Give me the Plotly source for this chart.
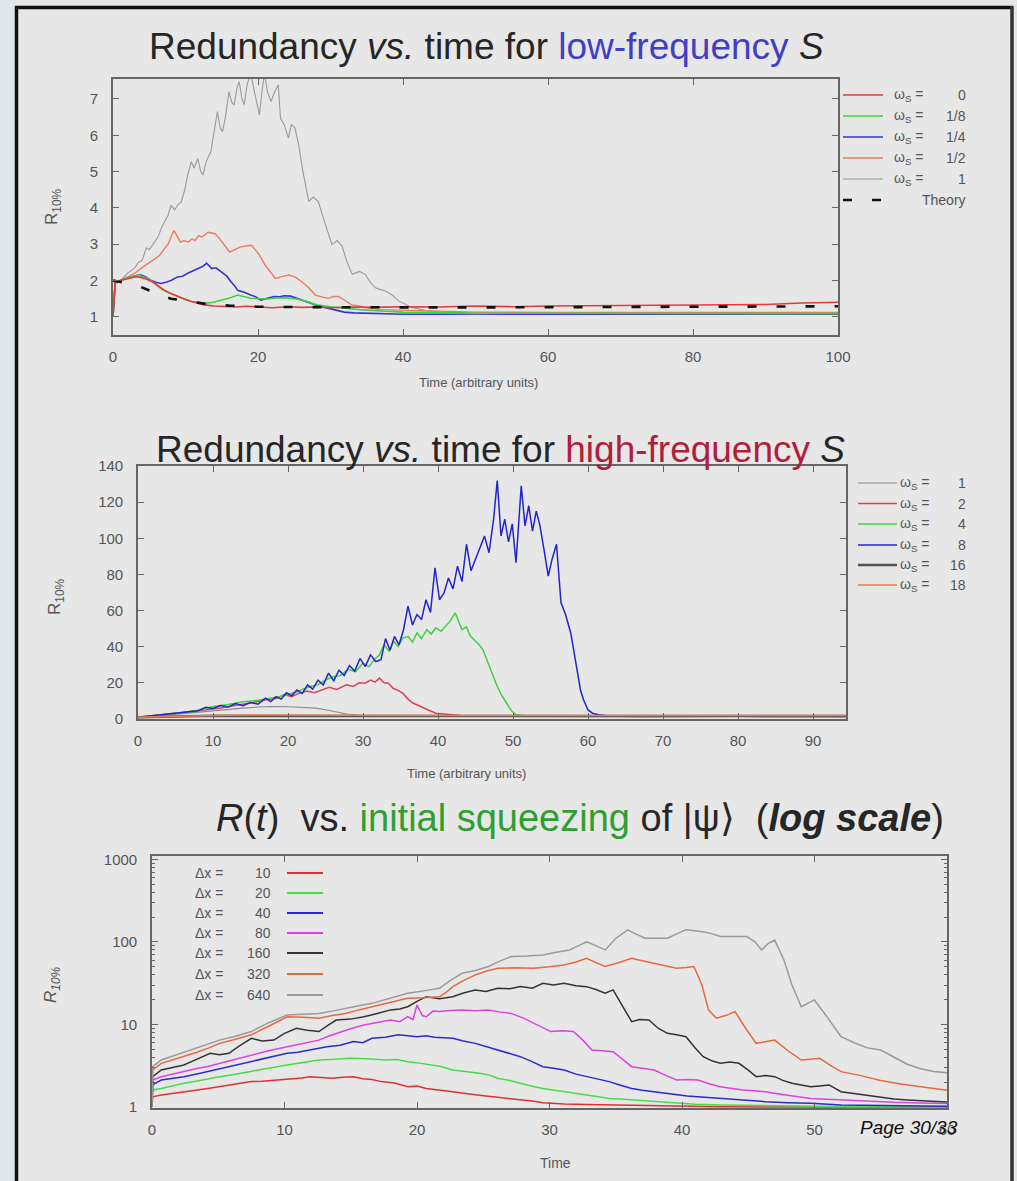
import plotly.graph_objects as go

W, H = 1017, 1181

# ---------------- Plot 1: low-frequency S ----------------
p1_labels = ["0", "1/8", "1/4", "1/2", "1"]

p1_t_w1 = [0, 0.3, 1, 2, 3, 3.5, 4, 4.6, 5, 5.7, 6.2, 6.8, 7.1, 7.6, 8.0, 8.5, 9.0, 9.4, 9.9, 10.3,
           10.8, 11.2, 11.7, 12.1, 12.4, 12.9, 13.5, 13.9, 14.4, 14.8, 15.1, 15.5, 16.0, 16.4, 16.7,
           17.1, 17.4, 17.8, 18.1, 18.5, 19.0, 19.5, 20.2, 20.6, 20.9, 21.3, 21.8, 22.3, 22.8, 23.1,
           23.6, 24.2, 24.6, 25.1, 25.6, 26.2, 27.0, 27.6, 28.3, 29.2, 30.2, 30.9, 31.6, 32.3, 33.0,
           34.0, 34.8, 35.5, 36.2, 36.9, 37.6, 38.5, 39.4, 40.3, 41.2, 43, 45, 50, 55, 60, 65, 70,
           75, 80, 85, 90, 95, 100]
p1_v_w1 = [1.0, 1.9, 2.0, 2.2, 2.35, 2.5, 2.55, 2.9, 2.85, 3.07, 3.2, 3.5, 3.62, 3.8, 4.07, 3.95,
           4.1, 4.16, 4.5, 4.9, 5.27, 5.1, 5.36, 5.0, 4.9, 5.3, 5.55, 6.0, 6.65, 6.2, 6.1, 6.5, 7.2,
           6.9, 6.84, 7.3, 7.48, 7.0, 6.84, 7.4, 7.7, 7.2, 6.56, 7.3, 7.7, 7.2, 6.93, 7.2, 7.39,
           6.47, 6.3, 5.92, 6.3, 6.2, 5.74, 5.0, 4.18, 4.3, 4.18, 3.6, 2.99, 3.1, 2.95, 2.5, 2.17,
           2.25, 2.17, 1.95, 1.8, 1.75, 1.71, 1.6, 1.44, 1.35, 1.26, 1.18, 1.14, 1.1, 1.1, 1.08,
           1.1, 1.09, 1.08, 1.1, 1.08, 1.09, 1.08, 1.1]

p1_t_w12 = [0, 0.3, 1, 2, 3, 4.1, 5, 5.5, 6.4, 7, 7.6, 8.0, 8.4, 8.9, 9.3, 9.8, 10.4, 10.9, 11.3,
            11.8, 12.3, 13.1, 13.6, 14.1, 14.7, 15.4, 16.1, 16.8, 17.5, 18.3, 19.1, 19.5, 20.2,
            21.0, 21.7, 22.4, 23.2, 24.2, 25.1, 26.1, 27.0, 27.9, 28.8, 29.7, 30.4, 31.1, 32.0,
            32.9, 34, 35.2, 37, 40, 45, 50, 60, 70, 80, 90, 100]
p1_v_w12 = [1.0, 1.95, 2.0, 2.1, 2.2, 2.37, 2.5, 2.55, 2.69, 2.85, 3.0, 3.2, 3.38, 3.2, 3.06, 3.1,
            3.06, 3.15, 3.1, 3.24, 3.2, 3.33, 3.3, 3.29, 3.15, 2.97, 2.78, 2.85, 2.92, 2.95, 2.97,
            2.88, 2.7, 2.42, 2.25, 2.06, 2.1, 2.15, 2.1, 1.96, 1.8, 1.6, 1.55, 1.51, 1.56, 1.56,
            1.45, 1.33, 1.3, 1.24, 1.2, 1.18, 1.15, 1.13, 1.12, 1.12, 1.13, 1.12, 1.12]

p1_t_w14 = [0, 0.3, 1, 2, 2.5, 3.2, 3.9, 4.5, 5.2, 5.9, 6.6, 7.3, 8.0, 8.9, 9.6, 10.3, 10.8, 11.5,
            12.2, 12.6, 12.9, 13.3, 13.6, 14.2, 15.0, 15.7, 16.3, 16.8, 17.2, 18.1, 19.0, 19.7,
            20.4, 21.3, 22.2, 23.0, 23.6, 24.5, 25.4, 26.3, 27.3, 28.4, 29.6, 30.7, 31.9, 33.2,
            34.6, 37, 40, 45, 50, 60, 70, 80, 90, 100]
p1_v_w14 = [1.0, 1.95, 2.0, 2.08, 2.1, 2.14, 2.15, 2.1, 2.01, 1.95, 1.92, 1.95, 2.0, 2.1, 2.12,
            2.2, 2.24, 2.3, 2.37, 2.42, 2.48, 2.4, 2.33, 2.35, 2.24, 2.12, 1.96, 1.85, 1.73, 1.68,
            1.6, 1.55, 1.46, 1.5, 1.56, 1.55, 1.58, 1.57, 1.51, 1.45, 1.37, 1.3, 1.24, 1.18, 1.13,
            1.11, 1.1, 1.08, 1.07, 1.07, 1.08, 1.07, 1.07, 1.08, 1.07, 1.07]

p1_t_w18 = [0, 0.3, 1, 2, 2.8, 3.5, 4.2, 4.8, 5.6, 6.6, 7.7, 8.9, 9.8, 10.8, 11.7, 12.6, 13.8,
            15.0, 16.1, 17.2, 18.1, 19.0, 20.2, 21.3, 22.5, 23.6, 24.5, 25.4, 26.8, 28.1, 30,
            31.9, 34, 37, 40, 45, 50, 60, 70, 80, 90, 100]
p1_v_w18 = [1.0, 1.95, 2.0, 2.08, 2.12, 2.15, 2.1, 2.06, 1.95, 1.78, 1.66, 1.56, 1.5, 1.42, 1.4,
            1.37, 1.4, 1.46, 1.52, 1.6, 1.55, 1.51, 1.5, 1.49, 1.52, 1.53, 1.51, 1.49, 1.42, 1.33,
            1.28, 1.24, 1.2, 1.16, 1.13, 1.12, 1.1, 1.1, 1.09, 1.1, 1.09, 1.09]

p1_t_w0 = [0, 0.3, 1, 2, 3, 3.5, 4.5, 5.5, 6.3, 7.1, 8.0, 8.9, 9.8, 10.8, 11.7, 12.6, 14, 15.5,
           17, 18.5, 20, 22, 24, 26, 28, 30, 33, 36, 40, 45, 50, 55, 60, 65, 70, 75, 80, 85, 90,
           95, 100]
p1_v_w0 = [1.0, 1.95, 2.0, 2.06, 2.1, 2.1, 2.05, 1.96, 1.85, 1.73, 1.64, 1.56, 1.49, 1.42, 1.38,
           1.33, 1.3, 1.28, 1.27, 1.29, 1.27, 1.25, 1.28, 1.26, 1.27, 1.25, 1.27, 1.26, 1.28, 1.27,
           1.3, 1.28, 1.3, 1.31, 1.3, 1.33, 1.32, 1.35, 1.34, 1.38, 1.4]

p1_t_theory = [0, 1, 2, 3.5, 5, 6.3, 8, 10.5, 13, 16, 20, 25, 30, 40, 50, 60, 70, 80, 90, 100]
p1_v_theory = [2.0, 1.97, 1.92, 1.85, 1.72, 1.62, 1.5, 1.42, 1.35, 1.31, 1.28, 1.27, 1.26, 1.26,
               1.26, 1.27, 1.27, 1.28, 1.28, 1.29]

p1_xticks = [0, 20, 40, 60, 80, 100]
p1_yticks = [1, 2, 3, 4, 5, 6, 7]

# ---------------- Plot 2: high-frequency S ----------------
p2_labels = ["1", "2", "4", "8", "16", "18"]

p2_t_w8 = [0, 2, 4, 6, 8, 9, 10, 11, 12, 13, 14, 15, 16, 17, 17.7, 18.4, 19.1, 19.8, 20.5, 21.2,
           21.9, 22.6, 23.3, 24.0, 24.7, 25.4, 26.1, 26.8, 27.5, 28.2, 28.9, 29.6, 30.3, 31.0,
           31.7, 32.4, 33.0, 33.6, 34.2, 34.8, 35.4, 36.0, 36.6, 37.2, 37.8, 38.4, 39.0, 39.6,
           40.2, 40.8, 41.4, 42.0, 42.6, 43.2, 43.8, 44.4, 45.0, 45.6, 46.2, 46.8, 47.4, 47.9,
           48.4, 48.9, 49.4, 49.9, 50.4, 51.1, 51.6, 52.1, 52.6, 53.1, 53.6, 54.2, 54.7, 55.2,
           55.8, 56.4, 57.0, 57.7, 58.2, 58.6, 59.0, 59.4, 60.0, 60.6, 61.4, 62.4, 64, 67, 70, 75,
           80, 85, 90, 94.4]
p2_v_w8 = [1, 1.8, 2.8, 3.5, 4.5, 6.5, 5.8, 7.5, 6.6, 8.5, 7.4, 9.1, 8.2, 11.5, 9.6, 12.4, 11.0,
           14.5, 12.8, 16.0, 14.1, 18.9, 16.5, 21.5, 18.8, 25.4, 21.2, 27.0, 24.1, 29.6, 26.5,
           33.5, 29.0, 35.5, 31.8, 32.8, 44.5, 38.0, 45.7, 41.0, 49.4, 62.4, 52.0, 57.8, 55.0,
           66.0, 59.0, 83.7, 66.0, 69.8, 78.0, 72.0, 84.6, 76.0, 96.7, 82.0, 88.3, 94.0, 101.3,
           92.0, 110.0, 131.9, 101.3, 110.6, 98.0, 108.0, 86.5, 129.1, 106.9, 118.0, 104.0, 115.0,
           106.9, 92.0, 79.1, 88.3, 96.7, 64.3, 58.0, 47.6, 36.0, 25.4, 16.0, 10.6, 5.0, 3.2, 2.3,
           1.8, 1.5, 1.4, 1.5, 1.4, 1.5, 1.4, 1.5, 1.4]

p2_t_w4 = [0, 2, 4, 6, 8, 10, 12, 14, 16, 18, 19, 20, 21, 22, 23, 24, 25, 26, 27, 28, 29, 30,
           30.8, 31.5, 32.2, 32.8, 33.5, 34.1, 34.7, 35.3, 36.0, 36.6, 37.2, 37.8, 38.5, 39.1,
           39.7, 40.4, 41.0, 41.6, 42.3, 42.8, 43.2, 43.8, 44.3, 44.8, 45.4, 46.0, 46.7, 47.3,
           47.9, 48.5, 49.2, 49.8, 50.4, 51.5, 53, 56, 60, 65, 70, 75, 80, 85, 90, 94.4]
p2_v_w4 = [1, 1.8, 2.8, 3.6, 4.8, 6.9, 8.0, 9.5, 10.4, 11.5, 12.4, 13.6, 14.8, 16.5, 18.0, 19.0,
           21.5, 23.4, 24.0, 27.5, 26.2, 31.0, 29.0, 32.8, 35.5, 41.1, 37.5, 43.0, 40.0, 44.8,
           45.7, 42.5, 47.6, 44.5, 49.4, 47.0, 50.5, 48.5, 51.3, 54.0, 58.7, 53.0, 49.4, 51.0,
           46.0, 43.9, 41.5, 38.3, 31.0, 25.0, 18.0, 13.0, 8.8, 4.5, 2.3, 1.8, 1.6, 1.5, 1.5, 1.6,
           1.5, 1.6, 1.5, 1.6, 1.5, 1.6]

p2_t_w2 = [0, 2, 4, 6, 8, 10.8, 12, 14, 15.5, 17.1, 18.5, 19.5, 20.5, 21.5, 22.5, 23.5, 24.6,
           25.5, 26.5, 27.8, 28.7, 29.5, 30.3, 31.0, 31.6, 32.2, 32.8, 33.4, 34.0, 34.6, 35.3,
           36.0, 36.6, 37.2, 37.8, 38.7, 39.7, 40.6, 41.6, 43, 46, 50, 55, 60, 70, 80, 90, 94.4]
p2_v_w2 = [1, 1.8, 2.7, 3.5, 4.5, 6.0, 6.8, 8.0, 9.3, 10.6, 11.5, 13.5, 12.4, 14.3, 15.5, 14.6,
           16.1, 17.5, 16.4, 18.9, 18.0, 20.0, 19.8, 21.5, 20.4, 22.6, 20.0, 19.8, 17.0, 16.0,
           14.3, 11.0, 9.0, 7.8, 6.5, 5.0, 3.2, 2.8, 2.3, 2.0, 1.8, 1.7, 1.8, 1.7, 1.8, 1.7, 1.8,
           1.7]

p2_t_w1 = [0, 3, 6, 8.9, 11, 13.9, 16, 17.7, 20, 22.1, 23.7, 25.2, 26.5, 27.8, 29.5, 31.5, 35,
           40, 50, 60, 70, 80, 90, 94.4]
p2_v_w1 = [1, 1.8, 3.0, 4.1, 5.0, 6.0, 6.6, 6.9, 6.8, 6.5, 6.0, 5.0, 3.8, 2.8, 2.1, 1.7, 1.5,
           1.4, 1.4, 1.3, 1.4, 1.3, 1.4, 1.3]

p2_t_flat = [0, 5, 10, 15, 20, 30, 40, 50, 60, 70, 80, 90, 94.4]
p2_v_w16 = [1, 1.5, 1.8, 1.7, 1.8, 1.6, 1.7, 1.6, 1.7, 1.6, 1.7, 1.6, 1.7]
p2_v_w18 = [1, 1.6, 2.0, 2.2, 2.1, 1.9, 2.0, 1.9, 2.0, 2.1, 2.0, 2.1, 2.0]

p2_xticks = [0, 10, 20, 30, 40, 50, 60, 70, 80, 90]
p2_yticks = [0, 20, 40, 60, 80, 100, 120, 140]

# ---------------- Plot 3: initial squeezing (log) ----------------
p3_labels = ["10", "20", "40", "80", "160", "320", "640"]

p3_t_dx10 = [0, 0.05, 0.7, 1.5, 2.4, 3.3, 4.2, 5.1, 6.0, 6.8, 7.5, 8.3, 9.0, 9.8, 10.6, 11.3,
             11.9, 12.7, 13.6, 14.4, 15.2, 15.9, 16.6, 17.3, 18.3, 19.3, 20.0, 20.7, 21.7, 22.7,
             23.5, 24.4, 25.2, 26.1, 27.0, 27.8, 28.7, 29.5, 30.3, 31.1, 32.8, 34.5, 37, 39.6,
             43, 47, 52, 56, 60]
p3_v_dx10 = [1.0, 1.33, 1.4, 1.45, 1.53, 1.6, 1.68, 1.76, 1.85, 1.95, 2.03, 2.05, 2.1, 2.12,
             2.2, 2.25, 2.33, 2.28, 2.23, 2.3, 2.33, 2.2, 2.15, 2.03, 1.95, 1.76, 1.8, 1.68,
             1.62, 1.53, 1.47, 1.4, 1.36, 1.31, 1.27, 1.22, 1.18, 1.13, 1.1, 1.09, 1.07, 1.06,
             1.04, 1.01, 1.01, 1.0, 1.0, 1.0, 1.0]

p3_t_dx20 = [0, 0.05, 0.7, 1.5, 2.4, 3.3, 4.2, 5.1, 6.3, 7.5, 8.8, 10.2, 11.4, 12.6, 13.8, 14.9,
             16.2, 17.6, 18.5, 19.3, 20.2, 21.0, 21.8, 22.7, 23.7, 24.7, 25.4, 26.1, 27.0, 27.8,
             28.6, 29.5, 30.3, 31.1, 32.0, 32.8, 33.7, 34.5, 35.3, 36.2, 38, 39.6, 41, 42.9, 46,
             49.7, 53, 56, 60]
p3_v_dx20 = [1.0, 1.61, 1.68, 1.8, 1.94, 2.05, 2.2, 2.33, 2.5, 2.68, 2.95, 3.23, 3.45, 3.71,
             3.8, 3.89, 3.85, 3.71, 3.75, 3.54, 3.4, 3.23, 3.1, 2.81, 2.7, 2.56, 2.45, 2.23, 2.1,
             1.94, 1.8, 1.68, 1.6, 1.53, 1.47, 1.4, 1.33, 1.27, 1.25, 1.22, 1.15, 1.11, 1.08,
             1.06, 1.04, 1.02, 1.01, 1.01, 1.0]

p3_t_dx40 = [0, 0.05, 0.7, 1.5, 2.4, 3.3, 4.2, 5.1, 6.3, 7.5, 8.8, 10.2, 11.0, 11.9, 12.5, 13.2,
             14.2, 15.2, 15.9, 16.6, 17.6, 18.6, 19.3, 20.0, 20.7, 21.3, 22.0, 22.7, 23.5, 24.4,
             25.2, 26.1, 27.0, 27.8, 28.6, 29.5, 30.3, 31.1, 32.0, 32.8, 33.7, 34.5, 35.3, 36.2,
             37.0, 37.9, 38.8, 39.6, 40.4, 41.2, 42.1, 42.9, 44.6, 46.3, 48, 49.7, 52, 56, 60]
p3_v_dx40 = [1.0, 1.85, 2.12, 2.2, 2.33, 2.5, 2.7, 2.94, 3.2, 3.54, 4.0, 4.47, 4.6, 4.9, 5.1,
             5.38, 5.6, 6.2, 6.0, 6.8, 7.0, 7.5, 7.3, 7.1, 7.3, 7.0, 6.9, 6.8, 6.3, 5.9, 5.4, 4.9,
             4.5, 4.07, 3.6, 3.08, 2.95, 2.81, 2.5, 2.33, 2.15, 2.03, 1.85, 1.68, 1.6, 1.53, 1.45,
             1.4, 1.36, 1.33, 1.3, 1.27, 1.2, 1.16, 1.13, 1.11, 1.06, 1.03, 1.02]

p3_t_dx80 = [0, 0.05, 0.7, 1.5, 2.4, 3.3, 4.2, 5.1, 6.3, 7.5, 8.8, 10.2, 11.4, 12.6, 13.4, 14.3,
             15.1, 16.0, 17.0, 18.0, 18.7, 19.3, 19.7, 20.0, 20.4, 20.7, 21.2, 21.7, 22.5, 23.4,
             24.4, 25.4, 26.2, 27.1, 28.0, 28.8, 29.5, 30.1, 31.0, 31.8, 32.5, 33.2, 34.0, 34.8,
             35.5, 36.2, 37.0, 37.9, 38.8, 39.6, 40.4, 41.2, 42.1, 42.9, 43.8, 44.6, 45.5, 46.3,
             47.2, 48.0, 48.9, 49.7, 51, 52, 54, 56, 58, 60]
p3_v_dx80 = [1.0, 2.12, 2.33, 2.5, 2.68, 2.9, 3.1, 3.38, 3.8, 4.27, 4.8, 5.38, 5.9, 6.46, 7.3,
             8.2, 9.0, 9.86, 10.5, 11.3, 10.8, 12.4, 11.5, 17.2, 12.8, 12.4, 14.5, 14.3, 14.8,
             15.0, 14.6, 15.0, 14.2, 13.6, 12.0, 10.3, 9.2, 8.2, 8.4, 8.2, 6.5, 4.9, 4.8, 4.68,
             3.8, 3.08, 2.95, 2.81, 2.4, 2.12, 2.15, 2.12, 1.9, 1.76, 1.68, 1.61, 1.57, 1.53,
             1.45, 1.4, 1.32, 1.27, 1.24, 1.22, 1.18, 1.14, 1.12, 1.1]

p3_t_dx160 = [0, 0.05, 0.7, 1.5, 2.4, 3.4, 4.4, 5.1, 5.8, 6.6, 7.5, 8.3, 9.2, 10.0, 10.9, 11.7,
              12.6, 13.3, 13.9, 15.0, 16.0, 17.0, 18.0, 18.7, 19.3, 20.0, 20.7, 21.7, 22.7, 23.5,
              24.4, 25.2, 26.1, 27.0, 27.8, 28.7, 29.5, 30.3, 31.1, 32.0, 32.8, 33.5, 34.2, 34.8,
              35.5, 36.2, 36.8, 37.5, 38.2, 38.9, 39.6, 40.3, 41.0, 41.6, 42.3, 42.9, 43.6, 44.3,
              45.0, 45.6, 46.3, 47.0, 47.6, 48.3, 49.0, 49.7, 50.4, 51.1, 52.0, 53, 54, 55, 56,
              57, 58, 59, 60]
p3_v_dx160 = [1.0, 2.33, 2.81, 3.0, 3.23, 3.8, 4.47, 4.3, 4.47, 5.5, 6.8, 6.3, 6.46, 7.8, 8.98,
              8.5, 8.2, 9.8, 11.3, 11.6, 12.4, 13.6, 15.0, 15.4, 16.4, 19.0, 21.7, 20.5, 21.7,
              24.0, 26.2, 25.0, 27.4, 27.0, 28.7, 27.5, 31.5, 30.0, 31.5, 29.5, 28.7, 26.5, 23.9,
              26.2, 17.0, 10.8, 11.5, 11.3, 9.0, 7.8, 7.5, 7.1, 5.2, 4.07, 3.6, 3.38, 3.5, 3.38,
              2.8, 2.33, 2.4, 2.33, 2.1, 1.94, 1.85, 1.76, 1.8, 1.85, 1.53, 1.45, 1.38, 1.3, 1.25,
              1.22, 1.2, 1.17, 1.15]

p3_t_dx320 = [0, 0.05, 0.7, 1.5, 2.4, 3.4, 4.3, 5.1, 6.3, 7.5, 8.8, 10.2, 11.4, 12.6, 13.6, 14.6,
              15.6, 16.6, 17.9, 19.3, 20.5, 21.7, 22.2, 22.7, 23.5, 24.4, 25.2, 26.1, 27.4, 28.8,
              30.0, 31.1, 32.0, 32.8, 33.5, 34.2, 35.2, 36.2, 37.0, 37.9, 38.8, 39.6, 40.3, 40.9,
              41.5, 42.0, 42.6, 43.3, 44.0, 44.8, 45.6, 46.3, 47.0, 48.0, 49.0, 49.7, 50.4, 51.2,
              52.0, 53.5, 55, 56.5, 58, 60]
p3_v_dx320 = [1.0, 2.81, 3.38, 3.7, 4.07, 4.6, 5.2, 5.9, 6.6, 7.5, 9.5, 12.4, 12.2, 11.9, 12.8,
              13.6, 15.0, 16.4, 18.5, 20.7, 21.0, 21.7, 24.5, 28.7, 34.0, 39.8, 44.0, 47.9, 48.5,
              47.9, 50.0, 52.5, 57.0, 63.3, 56.0, 50.3, 56.0, 63.3, 59.0, 55.0, 51.0, 47.9, 49.0,
              50.3, 30.0, 15.0, 11.9, 12.8, 14.3, 9.0, 5.9, 6.2, 6.46, 4.8, 3.71, 3.8, 3.89, 3.2,
              2.68, 2.4, 2.1, 1.9, 1.75, 1.6]

p3_t_dx640 = [0, 0.05, 0.7, 1.5, 2.4, 3.4, 4.3, 5.1, 6.3, 7.5, 8.8, 10.2, 11.4, 12.6, 13.6, 14.6,
              15.6, 16.6, 17.9, 19.3, 20.5, 21.7, 22.5, 23.4, 24.4, 25.4, 26.2, 27.1, 28.3, 29.5,
              30.5, 31.5, 32.2, 32.8, 33.5, 34.2, 35.0, 35.9, 36.5, 37.2, 38.0, 38.9, 39.6, 40.3,
              41.0, 41.6, 42.3, 42.9, 43.9, 44.9, 45.5, 46.0, 46.5, 47.0, 47.7, 48.3, 49.0, 49.5,
              50.0, 51.0, 52.0, 53.0, 54.0, 55.0, 56.0, 57.0, 58.0, 59.0, 60.0]
p3_v_dx640 = [1.0, 3.08, 3.71, 4.1, 4.68, 5.3, 5.9, 6.46, 7.2, 8.2, 10.5, 13.0, 13.3, 13.6, 14.5,
              15.7, 16.8, 18.0, 20.5, 23.9, 25.5, 27.4, 34.0, 41.7, 45.0, 50.3, 58.0, 66.3, 67.5,
              69.4, 75.0, 79.9, 90.0, 100.0, 90.0, 79.9, 110.0, 140.0, 125.0, 111.0, 111.0, 111.0,
              125.0, 140.0, 136.0, 133.0, 125.0, 116.0, 116.0, 116.0, 100.0, 80.0, 95.0, 105.0,
              60.0, 30.0, 16.4, 18.0, 19.8, 12.0, 7.1, 6.0, 5.2, 4.9, 4.0, 3.3, 2.9, 2.7, 2.6]

p3_xticks = [0, 10, 20, 30, 40, 50, 60]
p3_yticks = [1, 10, 100, 1000]

# ---------------- helpers (layout only) ----------------
def fx(px):
    return px / W

def fy(py):
    return 1 - py / H

FONT = "Liberation Sans, Arial, sans-serif"
BG = "#e7e7e7"
AX = "#666666"
TXT = "#555555"

fig = go.Figure()

def add(x, y, color, width, ax, dash=None):
    fig.add_trace(go.Scatter(x=x, y=y, mode="lines", xaxis="x" + ax, yaxis="y" + ax,
                             line=dict(color=color, width=width, dash=dash),
                             showlegend=False, hoverinfo="skip"))

# plot 1 traces
p1_series = [(p1_t_w0, p1_v_w0, "#e63a3a", 1.6), (p1_t_w18, p1_v_w18, "#3ed23e", 1.6),
             (p1_t_w14, p1_v_w14, "#3434d8", 1.6), (p1_t_w12, p1_v_w12, "#ef7a5a", 1.4),
             (p1_t_w1, p1_v_w1, "#9a9a9a", 1.1)]
for t, v, c, w in [p1_series[4], p1_series[3], p1_series[2], p1_series[1], p1_series[0]]:
    add(t, v, c, w, "")
add(p1_t_theory, p1_v_theory, "#111111", 2.6, "", dash="9px,20px")

# plot 2 traces
p2_series = [(p2_t_w1, p2_v_w1, "#8a8a8a", 1.1), (p2_t_w2, p2_v_w2, "#e0405a", 1.5),
             (p2_t_w4, p2_v_w4, "#3ed23e", 1.5), (p2_t_w8, p2_v_w8, "#2424cc", 1.5),
             (p2_t_flat, p2_v_w16, "#555555", 2.5), (p2_t_flat, p2_v_w18, "#ef7a4a", 1.5)]
for t, v, c, w in p2_series:
    add(t, v, c, w, "2")

# plot 3 traces
p3_series = [(p3_t_dx10, p3_v_dx10, "#e23030"), (p3_t_dx20, p3_v_dx20, "#44dd44"),
             (p3_t_dx40, p3_v_dx40, "#2a2ad0"), (p3_t_dx80, p3_v_dx80, "#e040e0"),
             (p3_t_dx160, p3_v_dx160, "#333333"), (p3_t_dx320, p3_v_dx320, "#e8683e"),
             (p3_t_dx640, p3_v_dx640, "#9a9a9a")]
for t, v, c in p3_series:
    add(t, v, c, 1.5, "3")

def xax(dom, rng, ticks, anchor):
    return dict(domain=dom, range=rng, tickvals=ticks, anchor=anchor, showgrid=False,
                zeroline=False, showline=True, linecolor=AX, linewidth=1.6, mirror="allticks",
                ticks="inside", ticklen=6, tickcolor=AX, tickwidth=1, automargin=False,
                tickfont=dict(family=FONT, size=15, color=TXT), ticklabelstandoff=7)

def yax(dom, rng, ticks, anchor, **kw):
    d = dict(domain=dom, range=rng, tickvals=ticks, anchor=anchor, showgrid=False,
             zeroline=False, showline=True, linecolor=AX, linewidth=1.6, mirror="allticks",
             ticks="inside", ticklen=6, tickcolor=AX, tickwidth=1, automargin=False,
             tickfont=dict(family=FONT, size=15, color=TXT), ticklabelstandoff=10)
    d.update(kw)
    return d

layout = dict(
    template="none",
    width=W, height=H, autosize=False,
    margin=dict(l=0, r=0, t=0, b=0, pad=0, autoexpand=False),
    paper_bgcolor=BG, plot_bgcolor=BG, showlegend=False,
    xaxis=xax([fx(113), fx(838)], [0, 100], p1_xticks, "y"),
    yaxis=yax([fy(335), fy(79)], [0.5, 7.55], p1_yticks, "x"),
    xaxis2=xax([fx(138), fx(846)], [0, 94.4], p2_xticks, "y2"),
    yaxis2=yax([fy(719), fy(466)], [0, 140], p2_yticks, "x2"),
    xaxis3=xax([fx(152), fx(947)], [0, 60], p3_xticks, "y3"),
    yaxis3=yax([fy(1108), fy(856)], [-0.012, 3.04], p3_yticks, "x3", type="log",
               ticktext=[str(v) for v in p3_yticks],
               minor=dict(ticks="inside", ticklen=3, tickcolor=AX, dtick="D1")),
)
fig.update_layout(**layout)

shapes = []
ann = []

# slide frame
shapes.append(dict(type="rect", xref="paper", yref="paper", x0=0, x1=fx(16), y0=0, y1=1,
                   fillcolor="#e2e7ee", line=dict(width=0), layer="below"))
shapes.append(dict(type="line", xref="paper", yref="paper", x0=fx(16.5), x1=fx(16.5), y0=0,
                   y1=fy(6), line=dict(color="#111111", width=3.5)))
shapes.append(dict(type="line", xref="paper", yref="paper", x0=fx(15), x1=fx(1013), y0=fy(7.5),
                   y1=fy(7.5), line=dict(color="#111111", width=3.5)))
shapes.append(dict(type="line", xref="paper", yref="paper", x0=fx(1012), x1=fx(1012), y0=0,
                   y1=fy(6), line=dict(color="#333333", width=3.5)))

def text(x, y, s, size=14, color=TXT, xanchor="center", angle=0, family=FONT):
    ann.append(dict(xref="paper", yref="paper", x=fx(x), y=fy(y), text=s, showarrow=False,
                    xanchor=xanchor, yanchor="middle", textangle=angle,
                    font=dict(family=family, size=size, color=color)))

def legline(x0, x1, y, color, width, dash=None):
    shapes.append(dict(type="line", xref="paper", yref="paper", x0=fx(x0), x1=fx(x1), y0=fy(y),
                       y1=fy(y), line=dict(color=color, width=width, dash=dash)))

# titles
TT = "#262626"
text(486, 47, "Redundancy <i>vs.</i> time for <span style='color:#3f3fc4'>low-frequency</span> <i>S</i>",
     size=37, color=TT)
text(500, 449, "Redundancy <i>vs.</i> time for <span style='color:#b01e3c'>high-frequency</span> <i>S</i>",
     size=37, color=TT)
text(580, 818, "<i>R</i>(<i>t</i>)  vs. <span style='color:#2ea02e'>initial squeezing</span> of |ψ⟩  (<b><i>log scale</i></b>)",
     size=38, color=TT)

# axis titles
text(478, 382, "Time (arbitrary units)", size=13)
text(466, 773, "Time (arbitrary units)", size=13)
text(555, 1163, "Time", size=14)
text(53, 207, "R<sub>10%</sub>", size=17, angle=-90)
text(56, 597, "R<sub>10%</sub>", size=17, angle=-90)
text(52, 985, "<i>R<sub>10%</sub></i>", size=17, angle=-90)

# legend 1
rows1 = [95, 116, 137, 158, 179]
for (t, v, c, w), lab, y in zip(p1_series, p1_labels, rows1):
    legline(843, 883, y, c, w)
    text(892, y, "ω<sub>S</sub> =", xanchor="left")
    text(968, y, lab, xanchor="right")
legline(843, 883, 200, "#111111", 2.6, dash="9px,20px")
text(968, 200, "Theory", xanchor="right")

# legend 2
rows2 = [483, 503.5, 524, 545, 565, 585]
for (t, v, c, w), lab, y in zip(p2_series, p2_labels, rows2):
    legline(858, 897, y, c, w)
    text(898, y, "ω<sub>S</sub> =", xanchor="left")
    text(968, y, lab, xanchor="right")

# legend 3
rows3 = [873, 893, 913, 933, 953, 974, 995]
for (t, v, c), lab, y in zip(p3_series, p3_labels, rows3):
    text(193, y, "Δx =", xanchor="left")
    text(273, y, lab, xanchor="right")
    legline(287, 323, y, c, 2)

# page number
text(909, 1127, "<i>Page 30/33</i>", size=19, color="#111111")

fig.update_layout(shapes=shapes, annotations=ann)
fig.write_html("out.html",
               post_script="document.body.style.margin='0';document.body.style.overflow='hidden';")
